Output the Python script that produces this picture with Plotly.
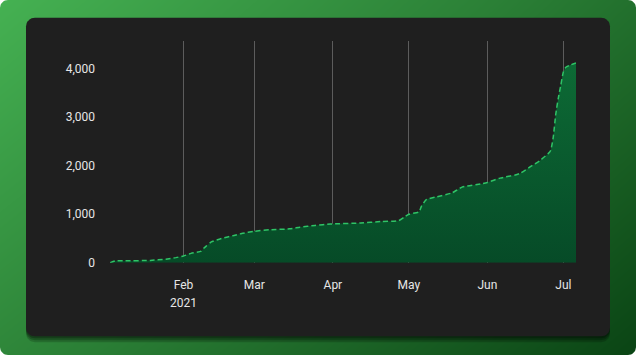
import math
import plotly.graph_objects as go

# ---- data ----
dates = ["2021-01-03","2021-01-05","2021-01-09","2021-01-19","2021-01-25","2021-01-29",
         "2021-02-01","2021-02-04","2021-02-08","2021-02-09","2021-02-10","2021-02-12","2021-02-16","2021-02-21","2021-02-24",
         "2021-03-01","2021-03-07","2021-03-15","2021-03-19","2021-03-25","2021-03-31",
         "2021-04-12","2021-04-20","2021-04-27","2021-04-29",
         "2021-05-01","2021-05-05","2021-05-06","2021-05-08","2021-05-12","2021-05-18","2021-05-22","2021-05-30",
         "2021-06-01","2021-06-06","2021-06-12","2021-06-14","2021-06-18","2021-06-22","2021-06-25","2021-06-26",
         "2021-06-27","2021-06-28","2021-06-29","2021-06-30",
         "2021-07-01","2021-07-02","2021-07-04","2021-07-06"]
values = [0, 40, 40, 50, 75, 107,
          140, 195, 240, 300, 345, 430, 500, 565, 605,
          650, 680, 700, 735, 770, 800,
          820, 850, 870, 935,
          1000, 1050, 1170, 1305, 1360, 1440, 1560, 1630,
          1655, 1745, 1810, 1845, 1980, 2115, 2250, 2315,
          2585, 3057, 3390, 3660,
          3930, 4030, 4080, 4115]
x_tickvals = ["2021-02-01", "2021-03-01", "2021-04-01", "2021-05-01", "2021-06-01", "2021-07-01"]
x_ticktext = ["Feb", "Mar", "Apr", "May", "Jun", "Jul"]
year_label = "2021"
y_ticks = [0, 1000, 2000, 3000, 4000]

W, H = 636, 362


def rounded_rect(x0, y0, x1, y1, r, n=8):
    xs, ys = [], []
    corners = [(x1 - r, y0 + r, -90, 0), (x1 - r, y1 - r, 0, 90),
               (x0 + r, y1 - r, 90, 180), (x0 + r, y0 + r, 180, 270)]
    for cx, cy, a0, a1 in corners:
        for i in range(n + 1):
            a = math.radians(a0 + (a1 - a0) * i / n)
            xs.append(cx + r * math.cos(a))
            ys.append(cy + r * math.sin(a))
    xs.append(xs[0]); ys.append(ys[0])
    return xs, ys


def corner_mask(cx, cy, px, py, r, a0, a1, n=8):
    xs, ys = [px], [py]
    for i in range(n + 1):
        a = math.radians(a0 + (a1 - a0) * i / n)
        xs.append(cx + r * math.cos(a))
        ys.append(cy + r * math.sin(a))
    xs.append(px); ys.append(py)
    return xs, ys


fig = go.Figure()

# background gradient (decoration)
fig.add_trace(go.Heatmap(
    x=[0, W], y=[0, H], z=[[0.0, 0.62], [0.42, 1.0]],
    zsmooth="best", showscale=False, hoverinfo="skip",
    colorscale=[[0, "#45b152"], [0.5, "#2a7e35"], [1, "#0a4414"]],
    xaxis="x", yaxis="y"))

# card shadow
for off, alpha in [(6, 0.18), (4, 0.22), (2, 0.25)]:
    sx, sy = rounded_rect(26, 18 + off, 610, 343 + off, 9)
    fig.add_trace(go.Scatter(x=sx, y=sy, fill="toself", mode="lines",
                             line=dict(width=0), fillcolor=f"rgba(0,0,0,{alpha})",
                             hoverinfo="skip", showlegend=False, xaxis="x", yaxis="y"))
# card
cx_, cy_ = rounded_rect(26, 18, 610, 343, 9)
fig.add_trace(go.Scatter(x=cx_, y=cy_, fill="toself", mode="lines",
                         line=dict(width=0), fillcolor="#1f1f1f",
                         hoverinfo="skip", showlegend=False, xaxis="x", yaxis="y"))

# outer rounded corners (white)
R = 8
for (ccx, ccy, px, py, a0, a1) in [(R, R, 0, 0, 180, 270), (W - R, R, W, 0, 270, 360),
                                   (W - R, H - R, W, H, 0, 90), (R, H - R, 0, H, 90, 180)]:
    mx, my = corner_mask(ccx, ccy, px, py, R, a0, a1)
    fig.add_trace(go.Scatter(x=mx, y=my, fill="toself", mode="lines",
                             line=dict(width=0), fillcolor="#ffffff",
                             hoverinfo="skip", showlegend=False, xaxis="x", yaxis="y"))

# main area chart
fig.add_trace(go.Scatter(
    x=dates, y=values, mode="lines", xaxis="x2", yaxis="y2",
    line=dict(color="#2ec466", width=1.5, dash="5px,3px", shape="spline", smoothing=0.5),
    fill="tozeroy",
    fillgradient=dict(type="vertical", start=0, stop=4115,
                      colorscale=[[0, "#064a27"], [1, "#0d6a35"]]),
    hoverinfo="skip", showlegend=False))

fig.add_annotation(x=x_tickvals[0], y=(H - 309) / H, xref="x2", yref="paper",
                   text=year_label, showarrow=False,
                   font=dict(size=12, color="#e6e6e6"), xanchor="center", yanchor="middle")

fig.update_layout(
    width=W, height=H,
    margin=dict(l=0, r=0, t=0, b=0),
    paper_bgcolor="#ffffff",
    plot_bgcolor="rgba(0,0,0,0)",
    font=dict(family="Roboto, Arial, sans-serif", size=12, color="#e6e6e6"),
    xaxis=dict(domain=[0, 1], range=[0, W], visible=False, fixedrange=True),
    yaxis=dict(domain=[0, 1], range=[H, 0], visible=False, fixedrange=True),
    xaxis2=dict(domain=[110 / W, 576 / W], anchor="y2", type="date",
                range=["2021-01-03", "2021-07-06"],
                tickvals=x_tickvals, ticktext=x_ticktext,
                showgrid=True, gridcolor="#5c5c5c", gridwidth=1,
                zeroline=False, showline=False, ticks="",
                ticklabelstandoff=13,
                tickfont=dict(size=12, color="#e6e6e6")),
    yaxis2=dict(domain=[(H - 268) / H, (H - 42) / H], anchor="x2",
                range=[0, 4566], tickvals=y_ticks, tickformat=",d",
                showgrid=False, zeroline=False, showline=False, ticks="",
                ticklabelstandoff=14,
                tickfont=dict(size=12, color="#e6e6e6")),
)

fig.write_html("out.html",
               post_script="document.body.style.margin='0';document.body.style.overflow='hidden';",
               config={"displayModeBar": False})
